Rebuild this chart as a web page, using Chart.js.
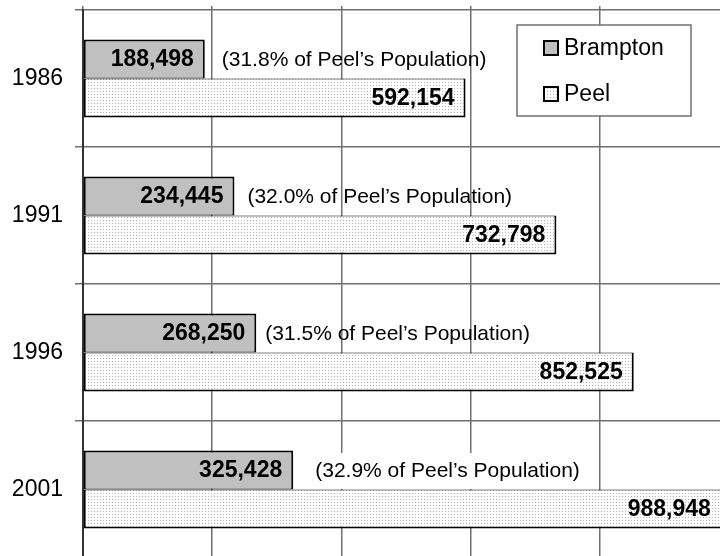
<!DOCTYPE html>
<html>
<head>
<meta charset="utf-8">
<script src="https://cdn.jsdelivr.net/npm/chart.js@4.4.0/dist/chart.umd.min.js"></script>
<style>
  html, body { margin: 0; padding: 0; background: #fff; overflow: hidden; }
</style>
</head>
<body>
<canvas id="popChart" width="730" height="560"></canvas>
<script>
// population figures, Brampton vs Peel region
const years = ["1986", "1991", "1996", "2001"];
const bramptonPop = [188498, 234445, 268250, 325428];
const peelPop = [592154, 732798, 852525, 988948];
const seriesNames = ["Brampton", "Peel"];
const xMax = 1000000;
const xStep = 200000;

const FONT = "'Liberation Sans', Arial, sans-serif";

// fine dot fill used for the Peel bars
function dotPattern() {
  const c = document.createElement("canvas");
  c.width = 3;
  c.height = 3;
  const g = c.getContext("2d");
  g.fillStyle = "#ffffff";
  g.fillRect(0, 0, 3, 3);
  g.fillStyle = "#b4b4b4";
  g.fillRect(1, 1, 1, 1);
  return g.createPattern(c, "repeat");
}
const peelFill = dotPattern();
const bramptonFill = "#c0c0c0";

// value labels inside the bars + share text next to the Brampton bar
const barNotes = {
  id: "barNotes",
  afterDatasetsDraw(chart) {
    const ctx = chart.ctx;
    const bMeta = chart.getDatasetMeta(0);
    const pMeta = chart.getDatasetMeta(1);
    const gaps = [17, 13, 9, 22];
    ctx.save();
    ctx.textBaseline = "middle";
    years.forEach((y, i) => {
      const b = bMeta.data[i];
      const p = pMeta.data[i];
      ctx.font = "bold 23px " + FONT;
      ctx.fillStyle = "#000";
      ctx.textAlign = "right";
      ctx.fillText(bramptonPop[i].toLocaleString("en-US"), b.x - 11, b.y + 1);
      ctx.fillText(peelPop[i].toLocaleString("en-US"), p.x - 11, p.y + 1);

      const share = (bramptonPop[i] / peelPop[i] * 100).toFixed(1);
      const txt = "(" + share + "% of Peel\u2019s Population)";
      ctx.font = "21px " + FONT;
      ctx.textAlign = "left";
      const tx = b.x + gaps[i];
      if (i === years.length - 1) {
        const w = ctx.measureText(txt).width;
        ctx.fillStyle = "#fff";
        ctx.fillRect(tx - 4, b.y - 17, w + 8, 36);
      }
      ctx.fillStyle = "#000";
      ctx.fillText(txt, tx, b.y + 1);
    });
    ctx.restore();
  }
};

// boxed legend sitting inside the plot area
const boxLegend = {
  id: "boxLegend",
  afterDraw(chart) {
    const ctx = chart.ctx;
    const fills = [bramptonFill, peelFill];
    ctx.save();
    ctx.fillStyle = "#fff";
    ctx.fillRect(517, 25, 174, 91);
    ctx.strokeStyle = "#707070";
    ctx.lineWidth = 1.5;
    ctx.strokeRect(517, 25, 174, 91);
    seriesNames.forEach((name, i) => {
      const top = 40 + i * 46;
      ctx.fillStyle = fills[i];
      ctx.fillRect(543, top, 16, 16);
      ctx.strokeStyle = "#000";
      ctx.lineWidth = 2;
      ctx.strokeRect(544, top + 1, 14, 14);
      ctx.fillStyle = "#000";
      ctx.font = "23px " + FONT;
      ctx.textAlign = "left";
      ctx.textBaseline = "middle";
      ctx.fillText(name, 564, top + 9);
    });
    ctx.restore();
  }
};

new Chart(document.getElementById("popChart"), {
  type: "bar",
  data: {
    labels: years,
    datasets: [
      {
        label: seriesNames[0],
        data: bramptonPop,
        backgroundColor: bramptonFill,
        borderColor: "#000",
        borderWidth: { top: 2, right: 2, bottom: 1, left: 2 },
        borderSkipped: false
      },
      {
        label: seriesNames[1],
        data: peelPop,
        backgroundColor: peelFill,
        borderColor: "#000",
        borderWidth: { top: 1, right: 2, bottom: 2, left: 2 },
        borderSkipped: false
      }
    ]
  },
  options: {
    indexAxis: "y",
    responsive: false,
    animation: false,
    devicePixelRatio: 1,
    layout: { padding: { left: 0, top: 0, right: 1, bottom: 2 } },
    datasets: { bar: { categoryPercentage: 0.57, barPercentage: 1 } },
    plugins: {
      legend: { display: false },
      tooltip: { enabled: false }
    },
    scales: {
      x: {
        position: "top",
        min: 0,
        max: xMax,
        ticks: { display: false, stepSize: xStep },
        grid: { color: "#707070", lineWidth: 1.5, tickLength: 4 },
        border: { display: false },
        afterFit: (s) => {
          s.height = 10;
          s.paddingLeft = 0;
          s.paddingRight = 0;
        }
      },
      y: {
        grid: { color: "#707070", lineWidth: 1.5, tickLength: 8, offset: true },
        border: { display: true, color: "#333", width: 2 },
        ticks: { color: "#000", padding: 12, font: { family: FONT, size: 23 } },
        afterFit: (s) => {
          s.width = 83;
          s.paddingTop = 0;
          s.paddingBottom = 0;
        }
      }
    }
  },
  plugins: [barNotes, boxLegend]
});
</script>
</body>
</html>
